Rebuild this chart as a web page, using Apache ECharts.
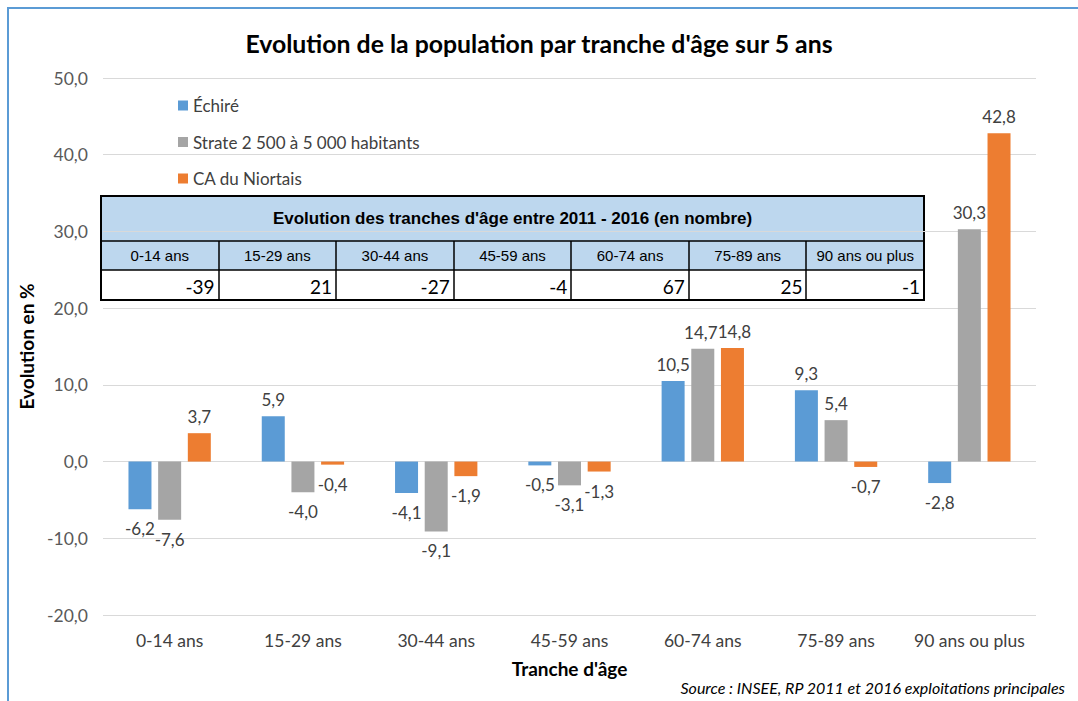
<!DOCTYPE html>
<html>
<head>
<meta charset="utf-8">
<title>Evolution de la population par tranche d'âge sur 5 ans</title>
<script src="https://cdn.jsdelivr.net/npm/echarts@6/dist/echarts.min.js"></script>
<style>
  html, body { margin: 0; padding: 0; background: #fff; }
  #chart { width: 1078px; height: 701px; }
</style>
</head>
<body>
<div id="chart"></div>
<script>
// tranches d'age
var categories = ['0-14 ans', '15-29 ans', '30-44 ans', '45-59 ans', '60-74 ans', '75-89 ans', '90 ans ou plus'];
// evolution en %
var echire = [-6.2, 5.9, -4.1, -0.5, 10.5, 9.3, -2.8];
var strate = [-7.6, -4.0, -9.1, -3.1, 14.7, 5.4, 30.3];
var caNiortais = [3.7, -0.4, -1.9, -1.3, 14.8, -0.7, 42.8];
// tableau : evolution en nombre pour Echire
var tableTitle = "Evolution des tranches d'âge entre 2011 - 2016 (en nombre)";
var tableValues = [-39, 21, -27, -4, 67, 25, -1];

var FONT = 'Lato, "Open Sans", sans-serif';
var NARROW = '"Liberation Sans", Arial, sans-serif';

function fmt(v) {
  return v.toFixed(1).replace('.', ',');
}

// positive labels above the bar, negative ones below
// nudge: small horizontal shifts so neighbouring labels only touch
function toItems(arr, nudge) {
  return arr.map(function (v, i) {
    var lab = v < 0 ? { position: 'bottom', distance: 11 } : { position: 'top', distance: 8 };
    if (nudge && nudge[i]) lab.offset = [nudge[i], 0];
    return { value: v, label: lab };
  });
}

function makeSeries(name, color, arr, nudge) {
  return {
    name: name,
    type: 'bar',
    barWidth: 23,
    barGap: '29%',
    itemStyle: { color: color },
    label: {
      show: true,
      fontFamily: FONT,
      fontSize: 17,
      color: '#404040',
      formatter: function (p) { return fmt(p.value); }
    },
    data: toItems(arr, nudge)
  };
}

// the overlaid table
function buildTable() {
  var x0 = 101, x1 = 924, y0 = 196, y1 = 241, y2 = 270, y3 = 300;
  var colW = (x1 - x0) / categories.length;
  var els = [];
  els.push({ type: 'rect', shape: { x: x0, y: y0, width: x1 - x0, height: y2 - y0 }, style: { fill: '#BDD7EE' } });
  els.push({ type: 'rect', shape: { x: x0, y: y2, width: x1 - x0, height: y3 - y2 }, style: { fill: '#fff' } });
  els.push({ type: 'line', shape: { x1: x0, y1: y1, x2: x1, y2: y1 }, style: { stroke: '#000', lineWidth: 1.5 } });
  els.push({ type: 'line', shape: { x1: x0, y1: y2, x2: x1, y2: y2 }, style: { stroke: '#000', lineWidth: 1.5 } });
  for (var i = 1; i < categories.length; i++) {
    var cx = Math.round(x0 + i * colW);
    els.push({ type: 'line', shape: { x1: cx, y1: y1, x2: cx, y2: y3 }, style: { stroke: '#000', lineWidth: 1.5 } });
  }
  els.push({ type: 'rect', shape: { x: x0, y: y0, width: x1 - x0, height: y3 - y0 }, style: { fill: null, stroke: '#000', lineWidth: 2 } });
  els.push({
    type: 'text', x: (x0 + x1) / 2, y: (y0 + y1) / 2,
    style: { text: tableTitle, font: 'bold 17px ' + NARROW, fill: '#000', align: 'center', verticalAlign: 'middle' }
  });
  for (var j = 0; j < categories.length; j++) {
    var left = x0 + j * colW;
    els.push({
      type: 'text', x: left + colW / 2, y: (y1 + y2) / 2,
      style: { text: categories[j], font: '15px ' + NARROW, fill: '#000', align: 'center', verticalAlign: 'middle' }
    });
    els.push({
      type: 'text', x: left + colW - 4, y: (y2 + y3) / 2 + 1,
      style: { text: String(tableValues[j]), font: '19px ' + FONT, fill: '#000', align: 'right', verticalAlign: 'middle' }
    });
  }
  return els;
}

var chart = echarts.init(document.getElementById('chart'), null, { renderer: 'svg' });

var option = {
  backgroundColor: '#fff',
  animation: false,
  title: {
    text: "Evolution de la population par tranche d'âge sur 5 ans",
    left: 'center',
    top: 26,
    textStyle: { fontFamily: FONT, fontSize: 24.8, fontWeight: 'bold', color: '#000' }
  },
  legend: {
    orient: 'vertical',
    left: 173,
    top: 92,
    itemWidth: 10,
    itemHeight: 10,
    itemGap: 19.5,
    icon: 'rect',
    textStyle: { fontFamily: FONT, fontSize: 17, color: '#404040' },
    data: ['Échiré', 'Strate 2 500 à 5 000 habitants', 'CA du Niortais']
  },
  grid: { left: 103, right: 42, top: 78, bottom: 86 },
  xAxis: {
    type: 'category',
    data: categories,
    name: "Tranche d'âge",
    nameLocation: 'middle',
    nameGap: 44,
    nameTextStyle: { fontFamily: FONT, fontSize: 19, fontWeight: 'bold', color: '#000' },
    axisLine: { show: false, onZero: false },
    axisTick: { show: false },
    axisLabel: { interval: 0, fontFamily: FONT, fontSize: 17.5, color: '#404040', margin: 16 }
  },
  yAxis: {
    type: 'value',
    min: -20,
    max: 50,
    interval: 10,
    name: 'Evolution en %',
    nameLocation: 'middle',
    nameGap: 61,
    nameTextStyle: { fontFamily: FONT, fontSize: 19, fontWeight: 'bold', color: '#000' },
    axisLine: { show: false },
    axisTick: { show: false },
    axisLabel: { fontFamily: FONT, fontSize: 17.5, color: '#595959', margin: 15, formatter: fmt },
    splitLine: { lineStyle: { color: '#D9D9D9', width: 1 } }
  },
  series: [
    makeSeries('Échiré', '#5B9BD5', echire),
    makeSeries('Strate 2 500 à 5 000 habitants', '#A5A5A5', strate, { 4: -2 }),
    makeSeries('CA du Niortais', '#ED7D31', caNiortais, { 4: 2 })
  ],
  graphic: [
    // chart frame (only top and left edges are visible)
    { type: 'polyline', shape: { points: [[8, 760], [8, 8], [1140, 8]] }, style: { stroke: '#5B9BD5', lineWidth: 2, fill: null } },
    {
      type: 'text', x: 1065, y: 687,
      style: { text: 'Source : INSEE, RP 2011 et 2016 exploitations principales', font: 'italic 16px ' + FONT, fill: '#000', align: 'right', verticalAlign: 'middle' }
    },
    { type: 'group', children: buildTable() }
  ]
};

chart.setOption(option);
</script>
</body>
</html>
